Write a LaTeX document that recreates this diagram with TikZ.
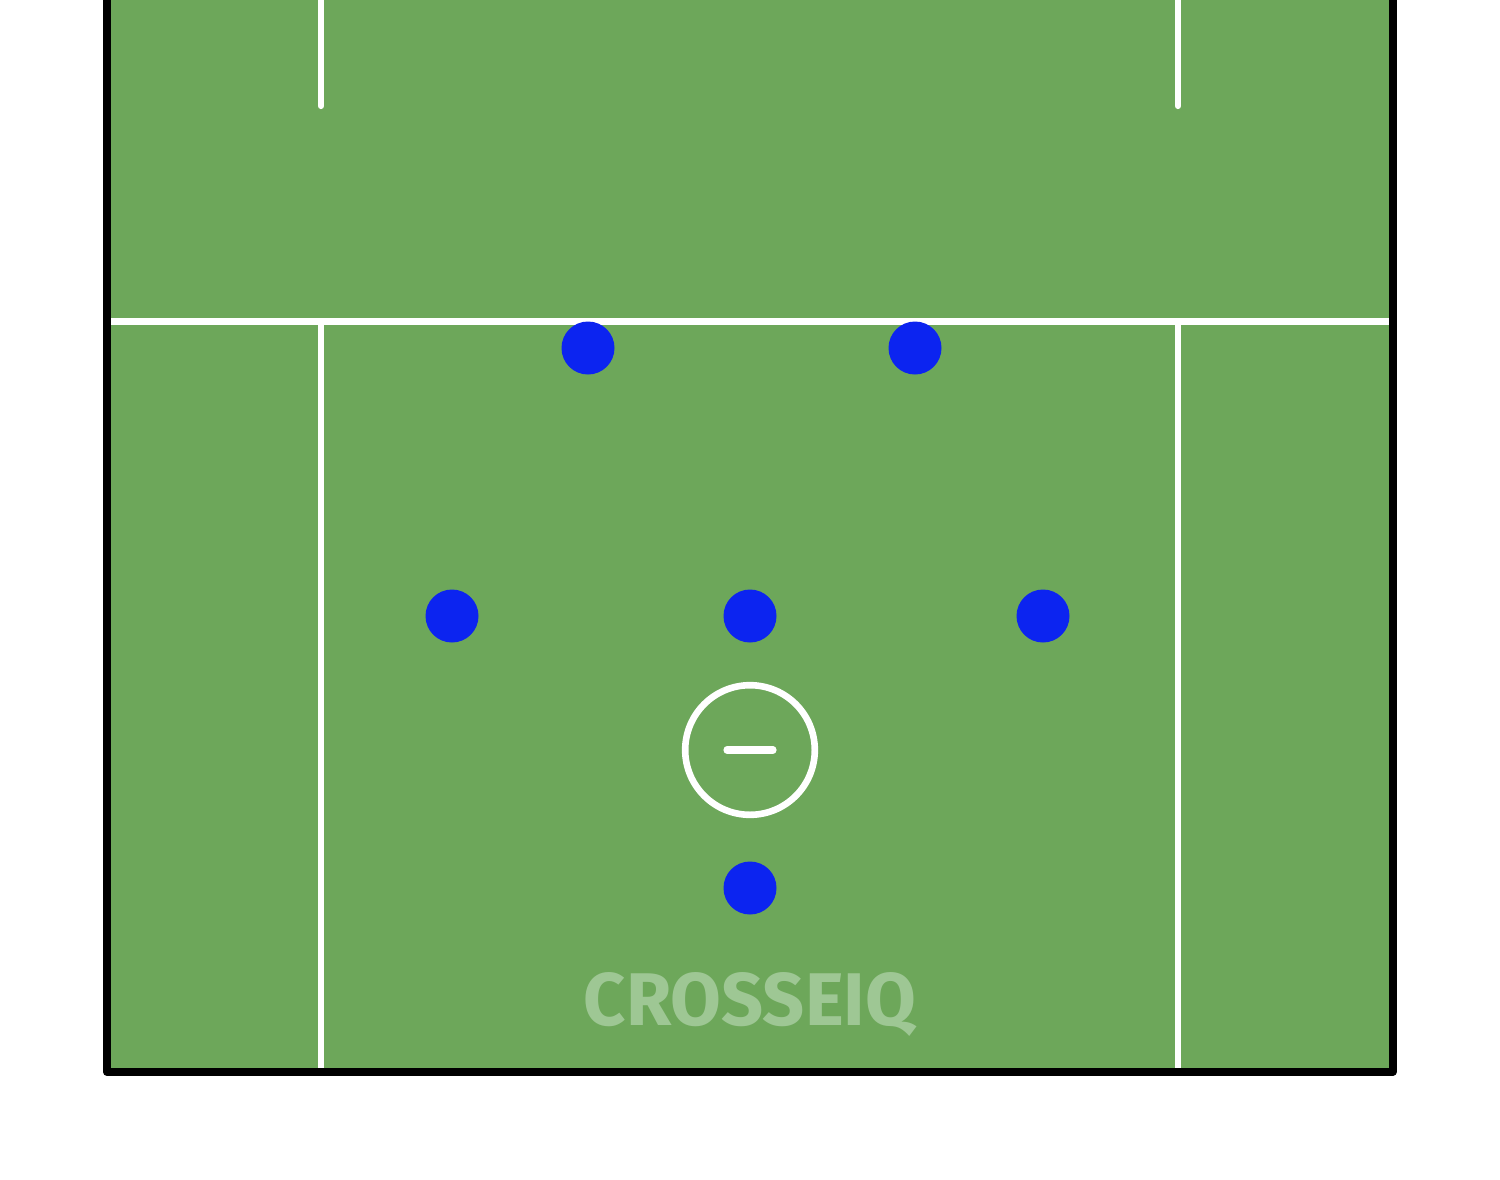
\documentclass[tikz,border=0pt]{standalone}
\usepackage{fontspec}
\usepackage{graphicx}
\newfontfamily\logofont{Fira Sans}
\definecolor{field}{HTML}{6DA75A}
\definecolor{player}{HTML}{0C24F0}
\definecolor{logo}{HTML}{9EC794}
\tikzset{
  pline/.style={draw=white, line width=3.1pt},
  player/.style={circle, fill=player, minimum size=26.5pt, inner sep=0pt},
}
\begin{document}
\begin{tikzpicture}[x=0.5pt, y=-0.5pt]
\useasboundingbox (0,0) rectangle (1500,1179);
% field
\fill[field] (107,-5) rectangle (1392.5,1072);
% white lines
\draw[pline] (111,321.5) -- (1389,321.5);
\draw[pline] (321,324) -- (321,1069);
\draw[pline] (1178,324) -- (1178,1069);
\draw[pline, line cap=round] (321,-5) -- (321,106);
\draw[pline, line cap=round] (1178,-5) -- (1178,106);
% border
\draw[black, line width=4pt, line join=round, line cap=round] (107,-10) -- (107,1072) -- (1392.5,1072) -- (1392.5,-10);
% goal crease
\node[circle, draw=white, line width=3.3pt, minimum size=64.8pt, inner sep=0pt] (crease) at (750,750) {};
\coordinate (gl) at (727,750);
\coordinate (gr) at (773,750);
\draw[white, line width=3.6pt, line cap=round] (gl) -- (gr);
% players
\node[player] (p1) at (588,348) {};
\node[player] (p2) at (915,348) {};
\node[player] (p3) at (452,616) {};
\node[player] (p4) at (750,616) {};
\node[player] (p5) at (1043,616) {};
\node[player] (p6) at (750,888) {};
% logo
\node[anchor=base, inner sep=0pt, text=logo] (logo) at (750,1025) {\resizebox{166pt}{26.5pt}{\logofont\bfseries CROSSEIQ}};
\end{tikzpicture}
\end{document}
